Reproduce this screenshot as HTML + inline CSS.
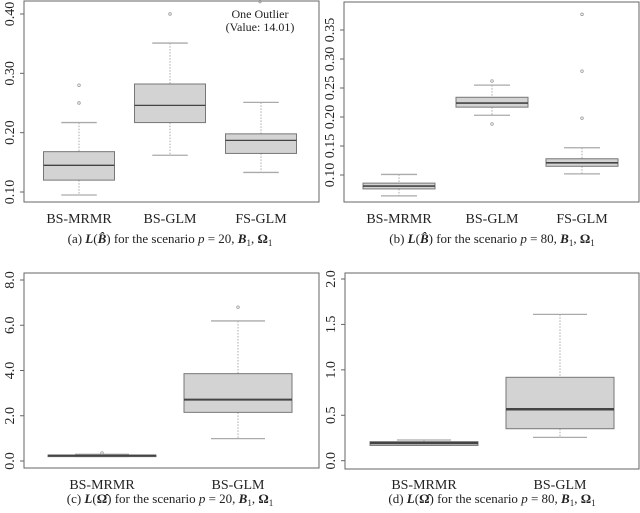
<!DOCTYPE html>
<html><head><meta charset="utf-8">
<style>
html,body{margin:0;padding:0;background:#fff;width:640px;height:513px;overflow:hidden}
svg{display:block}
text{font-family:"Liberation Serif",serif;fill:#222}
</style></head>
<body>
<svg id="fig" width="640" height="513" viewBox="0 0 640 513" xmlns="http://www.w3.org/2000/svg"></svg>
<script>
// Panel (a)
const catsA = ["BS-MRMR","BS-GLM","FS-GLM"];
const lowA = [0.095,0.162,0.133];
const q1A = [0.120,0.217,0.165];
const medA = [0.145,0.246,0.187];
const q3A = [0.168,0.282,0.198];
const highA = [0.217,0.351,0.251];
const outA = [[0.25,0.28],[0.40],[]];
const ticksA = [0.10,0.20,0.30,0.40];
const tickLabA = ["0.10","0.20","0.30","0.40"];
// Panel (b)
const catsB = ["BS-MRMR","BS-GLM","FS-GLM"];
const lowB = [0.064,0.203,0.102];
const q1B = [0.076,0.217,0.115];
const medB = [0.081,0.224,0.121];
const q3B = [0.086,0.234,0.128];
const highB = [0.101,0.255,0.147];
const outB = [[],[0.262,0.188],[0.198,0.279,0.377]];
const ticksB = [0.10,0.15,0.20,0.25,0.30,0.35];
const tickLabB = ["0.10","0.15","0.20","0.25","0.30","0.35"];
// Panel (c)
const catsC = ["BS-MRMR","BS-GLM"];
const lowC = [0.20,0.99];
const q1C = [0.22,2.15];
const medC = [0.24,2.71];
const q3C = [0.26,3.86];
const highC = [0.30,6.19];
const outC = [[0.35],[6.8]];
const ticksC = [0,2,4,6,8];
const tickLabC = ["0.0","2.0","4.0","6.0","8.0"];
// Panel (d)
const catsD = ["BS-MRMR","BS-GLM"];
const lowD = [0.17,0.257];
const q1D = [0.168,0.352];
const medD = [0.195,0.566];
const q3D = [0.209,0.918];
const highD = [0.228,1.611];
const outD = [[],[]];
const ticksD = [0,0.5,1.0,1.5,2.0];
const tickLabD = ["0.0","0.5","1.0","1.5","2.0"];

const NS="http://www.w3.org/2000/svg";
const svg=document.getElementById('fig');
function mk(tag,attrs,parent){const e=document.createElementNS(NS,tag);for(const k in attrs)e.setAttribute(k,attrs[k]);(parent||svg).appendChild(e);return e;}

function panel(cfg){
  const g=mk('g',{});
  
  
  const {L,R,T,B,v0,y0,v1,y1,xs,bw}=cfg;
  const y=v=>y0+(v-v0)*(y1-y0)/(v1-v0);
  const fr=mk('rect',{x:L,y:T,width:R-L,height:B-T,fill:'none',stroke:'#666','stroke-width':1},g);
  
  
  cfg.ticks.forEach((t,i)=>{
    const ty=y(t);
    const tk=mk('line',{x1:L-4,x2:L,y1:ty,y2:ty,stroke:'#666'},g);
    
    
    const tx=mk('text',{x:0,y:0,'font-size':14,'text-anchor':'middle',transform:`translate(${L-10},${ty}) rotate(-90)`},g);
    tx.textContent=cfg.tickLab[i];
    
    
  });
  cfg.cats.forEach((c,i)=>{
    const cx=xs[i];
    const wg=mk('g',{},g);
    
    
    mk('line',{x1:cx,x2:cx,y1:y(cfg.high[i]),y2:y(cfg.q3[i]),stroke:'#aaa','stroke-dasharray':'1.5,1.5'},wg);
    mk('line',{x1:cx,x2:cx,y1:y(cfg.q1[i]),y2:y(cfg.low[i]),stroke:'#aaa','stroke-dasharray':'1.5,1.5'},wg);
    mk('line',{x1:cx-bw/4,x2:cx+bw/4,y1:y(cfg.high[i]),y2:y(cfg.high[i]),stroke:'#aaa','stroke-width':1.3},wg);
    mk('line',{x1:cx-bw/4,x2:cx+bw/4,y1:y(cfg.low[i]),y2:y(cfg.low[i]),stroke:'#aaa','stroke-width':1.3},wg);
    const yt=y(cfg.q3[i]),yb=y(cfg.q1[i]);
    mk('rect',{x:cx-bw/2,y:yt,width:bw,height:Math.max(yb-yt,1.5),fill:'#d3d3d3',stroke:'#777','stroke-width':1},wg);
    mk('line',{x1:cx-bw/2,x2:cx+bw/2,y1:y(cfg.med[i]),y2:y(cfg.med[i]),stroke:'#444','stroke-width':cfg.medW||1.3},wg);
    cfg.out[i].forEach(o=>{const p=mk('circle',{cx:cx,cy:Math.max(y(o),1.5),r:1.3,fill:'none',stroke:'#999','stroke-width':0.8},wg);
      
      });
    const lb=mk('text',{x:cx,y:cfg.labY,'font-size':14,'text-anchor':'middle'},g);
    lb.textContent=c;
    
    
  });
  const cap=mk('text',{x:cfg.capX,y:cfg.capY,'font-size':13,'text-anchor':'middle'},g);
  cap.innerHTML=cfg.cap;
  
  
  return g;
}
panel({name:'panel-a',L:24,R:319,T:1,B:202,v0:0.10,y0:192,v1:0.40,y1:14,xs:[79,170,261],bw:71,
  cats:catsA,low:lowA,q1:q1A,med:medA,q3:q3A,high:highA,out:outA,ticks:ticksA,tickLab:tickLabA,labY:223,
  capX:170,capY:243,cap:'(a) <tspan font-style="italic" font-weight="bold">L</tspan>(<tspan font-style="italic" font-weight="bold">B̂</tspan>) for the scenario <tspan font-style="italic">p</tspan> = 20, <tspan font-style="italic" font-weight="bold">B</tspan><tspan font-size="9" dy="3">1</tspan><tspan dy="-3">, </tspan><tspan font-weight="bold">Ω</tspan><tspan font-size="9" dy="3">1</tspan>'});
const o14=mk('circle',{cx:260,cy:1.5,r:1.3,fill:'none',stroke:'#999','stroke-width':0.8});


const an=mk('text',{x:260,y:18,'font-size':12,'text-anchor':'middle'});
an.innerHTML='<tspan x="260">One Outlier</tspan><tspan x="260" dy="13">(Value: 14.01)</tspan>';



panel({name:'panel-b',L:344,R:639,T:2,B:202,v0:0.10,y0:175,v1:0.35,y1:30,xs:[399,492,582],bw:72,medW:1.6,
  cats:catsB,low:lowB,q1:q1B,med:medB,q3:q3B,high:highB,out:outB,ticks:ticksB,tickLab:tickLabB,labY:223,
  capX:492,capY:243,cap:'(b) <tspan font-style="italic" font-weight="bold">L</tspan>(<tspan font-style="italic" font-weight="bold">B̂</tspan>) for the scenario <tspan font-style="italic">p</tspan> = 80, <tspan font-style="italic" font-weight="bold">B</tspan><tspan font-size="9" dy="3">1</tspan><tspan dy="-3">, </tspan><tspan font-weight="bold">Ω</tspan><tspan font-size="9" dy="3">1</tspan>'});
panel({name:'panel-c',L:24,R:319,T:273,B:468,v0:0,y0:461,v1:8,y1:280,xs:[102,238],bw:108,medW:2,
  cats:catsC,low:lowC,q1:q1C,med:medC,q3:q3C,high:highC,out:outC,ticks:ticksC,tickLab:tickLabC,labY:489,
  capX:170,capY:503,cap:'(c) <tspan font-style="italic" font-weight="bold">L</tspan>(<tspan font-weight="bold">Ω̂</tspan>) for the scenario <tspan font-style="italic">p</tspan> = 20, <tspan font-style="italic" font-weight="bold">B</tspan><tspan font-size="9" dy="3">1</tspan><tspan dy="-3">, </tspan><tspan font-weight="bold">Ω</tspan><tspan font-size="9" dy="3">1</tspan>'});
panel({name:'panel-d',L:345,R:639,T:273,B:469,v0:0,y0:460.7,v1:2,y1:279,xs:[424,560],bw:108,medW:2.5,
  cats:catsD,low:lowD,q1:q1D,med:medD,q3:q3D,high:highD,out:outD,ticks:ticksD,tickLab:tickLabD,labY:489,
  capX:492,capY:503,cap:'(d) <tspan font-style="italic" font-weight="bold">L</tspan>(<tspan font-weight="bold">Ω̂</tspan>) for the scenario <tspan font-style="italic">p</tspan> = 80, <tspan font-style="italic" font-weight="bold">B</tspan><tspan font-size="9" dy="3">1</tspan><tspan dy="-3">, </tspan><tspan font-weight="bold">Ω</tspan><tspan font-size="9" dy="3">1</tspan>'});
</script>
</body></html>
